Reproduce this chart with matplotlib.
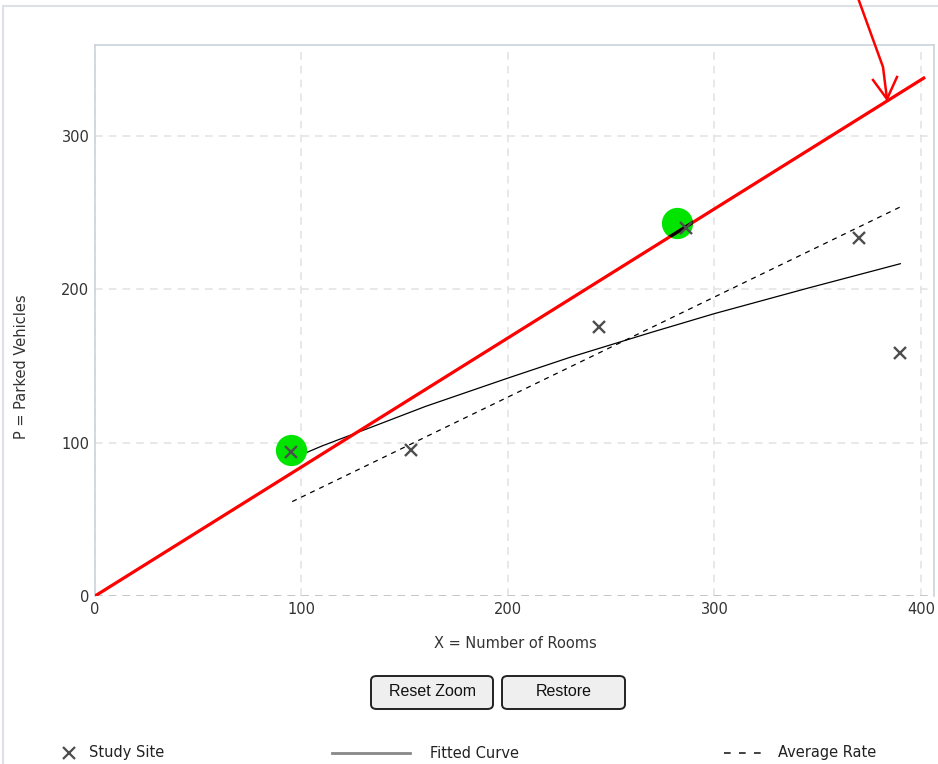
import matplotlib
matplotlib.use("Agg")
import matplotlib.pyplot as plt
from matplotlib.patches import Circle, FancyBboxPatch, Rectangle
from matplotlib.lines import Line2D
from matplotlib.transforms import IdentityTransform

# Study sites: number of rooms vs parked vehicles
rooms = [95, 153, 244, 286, 370, 390]
parked = [93.5, 95, 175, 240, 233, 158]

# Highlighted sites
hl_rooms = [95, 282]
hl_parked = [95, 243]

# Fitted curve
fit_rooms = [95.5, 110, 128, 160, 200, 230, 270, 300, 345, 390]
fit_parked = [89.5, 97.8, 107, 123.5, 142, 155.5, 172, 184, 200.5, 216.5]

# Average rate line
avg_rooms = [95.5, 390]
avg_parked = [61.5, 253.5]

# Sketched ratio line through the origin
ratio_rooms = [0, 402]
ratio_parked = [0, 338]

xticks = [0, 100, 200, 300, 400]
yticks = [0, 100, 200, 300]

W, H = 938, 764
fig = plt.figure(figsize=(W / 100, H / 100), dpi=100)
fig.patch.set_facecolor("white")

def fx(px):
    return px / W

def fy(py):
    return 1 - py / H

# outer panel frame
frame = Rectangle((fx(3), fy(770)), fx(940), fy(6) - fy(770), transform=fig.transFigure,
                  fill=False, edgecolor="#dde1e6", linewidth=1.5, zorder=0)
fig.patches.append(frame)

ax_left, ax_right, ax_top, ax_bottom = 95, 934, 45, 596
ax = fig.add_axes([fx(ax_left), fy(ax_bottom), fx(ax_right) - fx(ax_left), fy(ax_top) - fy(ax_bottom)])
ax.set_xlim(0, 406.3)
ax.set_ylim(0, 359)

for side in ["left", "top", "right"]:
    ax.spines[side].set_color("#ccd3dc")
    ax.spines[side].set_linewidth(1.2)
ax.spines["bottom"].set_visible(False)

ax.set_xticks(xticks)
ax.set_yticks(yticks)
ax.tick_params(length=0, labelsize=10.5, labelcolor="#333333", pad=4)
ax.grid(True, color="#e2e2e2", linestyle=(0, (5, 4)), linewidth=1.1)
ax.axhline(0, color="#b8bcc2", linestyle=(0, (5, 4)), linewidth=1.1, zorder=1)
ax.set_axisbelow(True)

ax.set_xlabel("X = Number of Rooms", fontsize=10.5, color="#333333")
ax.set_ylabel("P = Parked Vehicles", fontsize=10.5, color="#333333")
ax_w = ax_right - ax_left
ax_h = ax_bottom - ax_top
ax.xaxis.set_label_coords((515 - ax_left) / ax_w, -(643 - ax_bottom) / ax_h)
ax.yaxis.set_label_coords((22 - ax_left) / ax_w, (ax_bottom - 367) / ax_h)
ax.xaxis.label.set_va("center")
ax.yaxis.label.set_va("center")

# fitted curve and average rate
ax.plot(fit_rooms, fit_parked, color="black", linewidth=0.9, zorder=3)
ax.plot(avg_rooms, avg_parked, color="black", linewidth=0.9, linestyle=(0, (4, 4)), zorder=3)

# highlight circles
ax.plot(hl_rooms, hl_parked, linestyle="none", marker="o", markersize=22.5,
        markerfacecolor="#00e400", markeredgecolor="none", zorder=4)

# red ratio line, darkened where it crosses the green circles
ax.plot(ratio_rooms, ratio_parked, color="#ff0000", linewidth=2.3, zorder=5,
        solid_capstyle="butt")
fig.canvas.draw()
for hx, hy in zip(hl_rooms, hl_parked):
    cx, cy = ax.transData.transform((hx, hy))
    clip = Circle((cx, cy), 15.5, transform=IdentityTransform())
    dark, = ax.plot(ratio_rooms, ratio_parked, color="black", linewidth=2.3, zorder=5.5)
    dark.set_clip_path(clip)

# study sites
ax.plot(rooms, parked, linestyle="none", marker="x", markersize=9, markeredgewidth=1.7,
        color="#4d4d4d", zorder=6)

# hand-drawn arrow pointing at the red line
arrow_pts = [(858, -2), (883, 67), (887, 99)]
fig.add_artist(Line2D([fx(p[0]) for p in arrow_pts], [fy(p[1]) for p in arrow_pts],
                      transform=fig.transFigure, color="#ff0000", linewidth=1.8))
head = [(873, 80), (887, 99), (897, 77)]
fig.add_artist(Line2D([fx(p[0]) for p in head], [fy(p[1]) for p in head],
                      transform=fig.transFigure, color="#ff0000", linewidth=1.8))

# buttons
for left, right, label in [(371, 493, "Reset Zoom"), (502, 625, "Restore")]:
    btn = FancyBboxPatch((fx(left), fy(709)), fx(right) - fx(left), fy(676) - fy(709),
                         boxstyle="round,pad=0,rounding_size=0.006",
                         transform=fig.transFigure, facecolor="#efefef",
                         edgecolor="#222222", linewidth=1.4)
    fig.patches.append(btn)
    fig.text(fx((left + right) / 2), fy(692), label, ha="center", va="center",
             fontsize=11.5, color="#111111", family="Liberation Sans")

# legend row
ly = fy(753)
fig.add_artist(Line2D([fx(69)], [ly], transform=fig.transFigure, marker="x",
                      markersize=8, markeredgewidth=1.6, color="#4d4d4d", linestyle="none"))
fig.text(fx(89), ly, "Study Site", ha="left", va="center", fontsize=10.5, color="#222222")
fig.add_artist(Line2D([fx(332), fx(410)], [ly, ly], transform=fig.transFigure,
                      color="#888888", linewidth=2))
fig.text(fx(430), ly, "Fitted Curve", ha="left", va="center", fontsize=10.5, color="#222222")
fig.add_artist(Line2D([fx(724), fx(762)], [ly, ly], transform=fig.transFigure,
                      color="#222222", linewidth=1.2, linestyle=(0, (4, 5))))
fig.text(fx(778), ly, "Average Rate", ha="left", va="center", fontsize=10.5, color="#222222")

fig.savefig("out.png", dpi=100, facecolor="white")
